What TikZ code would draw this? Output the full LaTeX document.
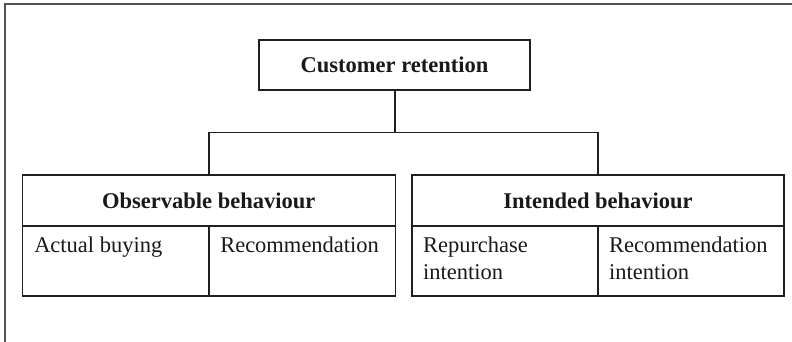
\documentclass[tikz,border=0pt]{standalone}
\usepackage{fontspec}
\setmainfont{Liberation Serif}
\begin{document}
\begin{tikzpicture}[x=0.5pt,y=-0.5pt,
  every node/.style={inner sep=0pt,outer sep=0pt,text=black!90},
  frameline/.style={draw=black!68,line width=1pt},
  box/.style={draw=black!88,line width=0.7pt,rectangle,
    font=\fontsize{11.25pt}{13.5pt}\selectfont\bfseries},
  cell/.style={draw=black!88,line width=0.7pt,rectangle,
    minimum width=93pt,minimum height=35pt},
  celltext/.style={anchor=base west,align=left,
    font=\fontsize{11.25pt}{13.5pt}\selectfont},
  link/.style={draw=black!88,line width=0.75pt}]
\useasboundingbox (0,0) rectangle (792,342);

% page frame, open to the right and below
\draw[frameline] (4.5,342) -- (4.5,4.5) -- (792,4.5);

% top box
\node[box,minimum width=135.5pt,minimum height=25pt] (top) at (394.5,65) {Customer retention};

% headers of the two groups
\node[box,minimum width=186.5pt,minimum height=25.5pt] (lh) at (208.75,200.5) {Observable behaviour};
\node[box,minimum width=186pt,minimum height=25.5pt] (rh) at (598,200.5) {Intended behaviour};

% cells below the headers
\node[cell,anchor=north west] (c1) at (lh.south west) {};
\node[cell,anchor=north east] (c2) at (lh.south east) {};
\node[cell,anchor=north west] (c3) at (rh.south west) {};
\node[cell,anchor=north east] (c4) at (rh.south east) {};

% cell texts (base anchor of a two-line node sits on its last line)
\node[celltext] (t1) at ([xshift=6pt,yshift=-13pt]c1.north west) {Actual buying};
\node[celltext] (t2) at ([xshift=5.5pt,yshift=-13pt]c2.north west) {Recommendation};
\node[celltext] (t3) at ([xshift=5.5pt,yshift=-26.5pt]c3.north west) {Repurchase\\intention};
\node[celltext] (t4) at ([xshift=5.5pt,yshift=-26.5pt]c4.north west) {Recommendation\\intention};

% tree connectors
\coordinate (j) at (394.5,132.5);
\draw[link,line width=1pt] (top.south) -- (j);
\draw[link] (lh.north) |- (j) -| (rh.north);
\end{tikzpicture}
\end{document}
